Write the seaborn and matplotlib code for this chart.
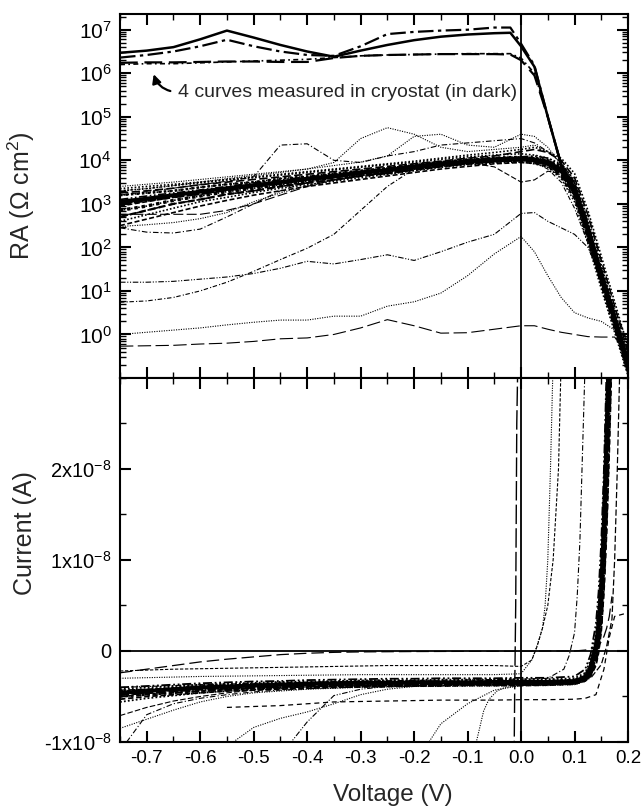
import numpy as np
import pandas as pd
import matplotlib
matplotlib.use("Agg")
import matplotlib.pyplot as plt
import seaborn as sns
from matplotlib.ticker import FixedLocator, FixedFormatter, LogLocator, NullFormatter, MultipleLocator

# ---------------- DATA ----------------
# Top panel: voltage grid (V) and log10(RA / Ohm cm^2) values
v_top = [-0.75, -0.7, -0.65, -0.6, -0.55, -0.5, -0.45, -0.4, -0.35, -0.3, -0.25, -0.2,
         -0.15, -0.1, -0.05, 0.0, 0.025, 0.05, 0.075, 0.1, 0.125, 0.15, 0.175, 0.2]

lg_band_1 = [3.05, 3.12, 3.20, 3.28, 3.36, 3.43, 3.50, 3.58, 3.64, 3.72, 3.78, 3.86, 3.92, 3.98, 4.02, 4.04, 4.02, 3.96, 3.78, 3.35, 2.40, 1.35, 0.35, -0.70]
lg_band_2 = [2.95, 3.05, 3.15, 3.22, 3.32, 3.40, 3.46, 3.55, 3.60, 3.68, 3.75, 3.82, 3.88, 3.95, 4.00, 4.02, 4.00, 3.93, 3.72, 3.25, 2.30, 1.25, 0.25, -0.80]
lg_band_3 = [3.20, 3.25, 3.30, 3.38, 3.45, 3.50, 3.58, 3.63, 3.70, 3.76, 3.82, 3.90, 3.96, 4.02, 4.06, 4.08, 4.06, 4.00, 3.85, 3.45, 2.52, 1.48, 0.45, -0.60]
lg_band_4 = [2.70, 2.85, 3.00, 3.10, 3.22, 3.30, 3.40, 3.48, 3.55, 3.64, 3.70, 3.78, 3.86, 3.92, 3.97, 4.00, 3.97, 3.90, 3.68, 3.20, 2.25, 1.20, 0.20, -0.85]
lg_band_5 = [3.30, 3.35, 3.42, 3.48, 3.55, 3.60, 3.66, 3.72, 3.78, 3.84, 3.90, 3.95, 4.02, 4.08, 4.12, 4.15, 4.12, 4.05, 3.92, 3.55, 2.65, 1.60, 0.55, -0.50]
lg_band_6 = [2.50, 2.65, 2.80, 2.95, 3.08, 3.20, 3.30, 3.40, 3.48, 3.56, 3.64, 3.72, 3.80, 3.86, 3.92, 3.95, 3.93, 3.86, 3.62, 3.12, 2.18, 1.12, 0.12, -0.90]
lg_band_7 = [3.10, 3.18, 3.25, 3.32, 3.40, 3.48, 3.55, 3.62, 3.68, 3.75, 3.82, 3.88, 3.95, 4.00, 4.05, 4.08, 4.10, 4.05, 3.88, 3.48, 2.55, 1.50, 0.48, -0.55]
lg_band_8 = [2.85, 2.95, 3.08, 3.18, 3.28, 3.36, 3.44, 3.52, 3.60, 3.66, 3.74, 3.80, 3.88, 3.94, 3.98, 4.00, 3.98, 3.92, 3.75, 3.30, 2.35, 1.30, 0.30, -0.75]
lg_band_9 = [3.25, 3.30, 3.36, 3.44, 3.50, 3.56, 3.62, 3.68, 3.74, 3.80, 3.86, 3.92, 3.98, 4.05, 4.10, 4.20, 4.25, 4.18, 4.00, 3.60, 2.75, 1.70, 0.65, -0.40]
lg_band_10 = [2.60, 2.75, 2.90, 3.05, 3.15, 3.26, 3.36, 3.44, 3.52, 3.60, 3.68, 3.76, 3.84, 3.90, 3.94, 3.96, 3.92, 3.84, 3.58, 3.05, 2.10, 1.05, 0.05, -0.95]
lg_band_11 = [3.00, 3.08, 3.16, 3.24, 3.32, 3.40, 3.48, 3.56, 3.62, 3.70, 3.77, 3.84, 3.92, 3.98, 4.03, 4.05, 4.03, 3.98, 3.80, 3.40, 2.45, 1.40, 0.40, -0.65]
lg_band_12 = [3.35, 3.40, 3.45, 3.50, 3.56, 3.62, 3.68, 3.74, 3.80, 3.86, 3.92, 3.98, 4.05, 4.12, 4.18, 4.25, 4.30, 4.20, 4.05, 3.70, 2.85, 1.80, 0.75, -0.30]
lg_bump_1 = [3.30, 3.35, 3.42, 3.50, 3.58, 3.65, 3.72, 3.80, 3.95, 4.50, 4.75, 4.60, 4.30, 4.20, 4.25, 4.30, 4.35, 4.20, 3.95, 3.50, 2.60, 1.50, 0.50, -0.50]
lg_bump_2 = [3.20, 3.28, 3.36, 3.44, 3.52, 3.62, 4.35, 4.38, 4.00, 3.95, 4.10, 4.20, 4.35, 4.40, 4.45, 4.50, 4.40, 4.20, 3.95, 3.50, 2.50, 1.45, 0.45, -0.55]
lg_bump_3 = [3.40, 3.45, 3.50, 3.56, 3.62, 3.68, 3.74, 3.80, 3.88, 3.96, 4.10, 4.55, 4.60, 4.35, 4.30, 4.60, 4.55, 4.30, 3.90, 3.40, 2.50, 1.50, 0.50, -0.50]
lg_dip_1 = [3.00, 3.10, 3.18, 3.26, 3.34, 3.42, 3.50, 3.58, 3.64, 3.70, 3.76, 3.84, 3.90, 3.95, 3.85, 3.50, 3.55, 3.75, 3.70, 3.30, 2.35, 1.30, 0.30, -0.70]
lg_low_1 = [2.45, 2.35, 2.33, 2.42, 2.70, 3.00, 3.30, 3.50, 3.60, 3.70, 3.76, 3.84, 3.90, 3.96, 4.00, 4.02, 4.00, 3.94, 3.76, 3.30, 2.38, 1.32, 0.32, -0.72]
lg_low_2 = [2.76, 2.76, 2.76, 2.76, 2.85, 3.00, 3.20, 3.40, 3.55, 3.65, 3.72, 3.80, 3.88, 3.94, 3.98, 4.00, 3.98, 3.90, 3.72, 3.25, 2.30, 1.25, 0.25, -0.80]
lg_low_3 = [2.48, 2.52, 2.57, 2.66, 2.80, 3.05, 3.25, 3.42, 3.55, 3.64, 3.72, 3.80, 3.87, 3.93, 3.97, 3.99, 3.96, 3.88, 3.66, 3.18, 2.22, 1.18, 0.18, -0.85]
lg_rise_b = [0.74, 0.77, 0.85, 1.00, 1.20, 1.45, 1.72, 1.98, 2.30, 2.85, 3.40, 3.80, 3.92, 3.96, 4.00, 4.00, 3.95, 3.80, 3.50, 2.90, 2.10, 1.20, 0.30, -0.70]
lg_mid_a = [1.20, 1.20, 1.22, 1.27, 1.32, 1.40, 1.52, 1.68, 1.62, 1.72, 1.83, 1.70, 1.90, 2.12, 2.30, 2.78, 2.80, 2.60, 2.45, 2.30, 2.00, 1.30, 0.60, -0.20]
lg_mid_c = [0.00, 0.05, 0.10, 0.15, 0.22, 0.28, 0.33, 0.33, 0.42, 0.42, 0.65, 0.75, 0.95, 1.35, 1.85, 2.25, 1.90, 1.35, 0.85, 0.50, 0.38, 0.30, 0.10, -0.20]
lg_bot_d = [-0.27, -0.26, -0.25, -0.22, -0.20, -0.16, -0.10, -0.08, 0.00, 0.15, 0.34, 0.20, 0.03, 0.04, 0.12, 0.20, 0.20, 0.12, 0.05, 0.00, -0.05, -0.06, -0.06, -0.50]

# Cryostat curves (own voltage grid)
v_cryo = [-0.75, -0.7, -0.65, -0.6, -0.55, -0.5, -0.45, -0.4, -0.35, -0.3, -0.25, -0.2, -0.15,
          -0.1, -0.05, -0.02, 0.0, 0.025, 0.05, 0.075, 0.1, 0.125, 0.15, 0.175, 0.2]
lg_cryo_solid = [6.47, 6.52, 6.60, 6.78, 6.98, 6.82, 6.65, 6.50, 6.38, 6.52, 6.65, 6.76, 6.84, 6.89, 6.92, 6.93, 6.62, 6.15, 5.00, 3.90, 3.35, 2.40, 1.35, 0.35, -0.70]
lg_cryo_dashdot = [6.36, 6.42, 6.50, 6.62, 6.77, 6.62, 6.50, 6.42, 6.40, 6.62, 6.90, 6.95, 6.98, 7.00, 7.05, 7.05, 6.68, 6.18, 5.00, 3.90, 3.35, 2.40, 1.35, 0.35, -0.70]
lg_cryo_dash = [6.24, 6.25, 6.25, 6.26, 6.27, 6.27, 6.26, 6.26, 6.35, 6.40, 6.42, 6.43, 6.44, 6.44, 6.44, 6.43, 6.30, 5.95, 5.00, 3.90, 3.35, 2.40, 1.35, 0.35, -0.70]
lg_cryo_dot = [6.20, 6.22, 6.22, 6.24, 6.26, 6.28, 6.30, 6.32, 6.36, 6.40, 6.42, 6.43, 6.44, 6.45, 6.45, 6.45, 6.35, 6.00, 5.00, 3.90, 3.35, 2.40, 1.35, 0.35, -0.70]

# Bottom panel: voltage grid (V) and current in nA
v_bot = [-0.75, -0.7, -0.65, -0.6, -0.55, -0.5, -0.45, -0.4, -0.35, -0.3, -0.25, -0.2, -0.15, -0.1,
         -0.05, 0.0, 0.05, 0.1, 0.12, 0.13, 0.14, 0.145, 0.15, 0.155, 0.16, 0.165, 0.17]
i_band_1 = [-4.6, -4.4, -4.2, -4.0, -3.9, -3.8, -3.7, -3.6, -3.55, -3.5, -3.5, -3.45, -3.45, -3.45, -3.4, -3.4, -3.4, -3.3, -2.9, -1.8, 0.5, 3.0, 7.0, 14.0, 24.0, 35.0, 45.0]
i_band_2 = [-5.0, -4.8, -4.6, -4.4, -4.25, -4.1, -4.0, -3.9, -3.85, -3.8, -3.75, -3.75, -3.7, -3.7, -3.7, -3.65, -3.65, -3.55, -3.2, -2.4, -0.5, 1.5, 5.0, 11.0, 20.0, 31.0, 42.0]
i_band_3 = [-4.2, -4.0, -3.85, -3.7, -3.6, -3.5, -3.4, -3.35, -3.3, -3.25, -3.2, -3.2, -3.15, -3.15, -3.1, -3.1, -3.1, -3.0, -2.4, -1.0, 2.0, 5.0, 10.0, 18.0, 28.0, 40.0, 50.0]
i_band_4 = [-4.8, -4.6, -4.4, -4.2, -4.1, -4.0, -3.9, -3.8, -3.7, -3.65, -3.6, -3.6, -3.55, -3.55, -3.5, -3.5, -3.5, -3.45, -3.1, -2.6, -1.2, 0.5, 3.0, 8.0, 15.0, 25.0, 36.0]
i_band_5 = [-4.4, -4.2, -4.0, -3.85, -3.75, -3.65, -3.55, -3.5, -3.45, -3.4, -3.35, -3.35, -3.3, -3.3, -3.3, -3.25, -3.25, -3.15, -2.6, -1.4, 1.2, 4.0, 8.5, 16.0, 26.0, 38.0, 48.0]
i_band_6 = [-5.3, -5.0, -4.8, -4.6, -4.4, -4.3, -4.2, -4.1, -4.0, -3.95, -3.9, -3.85, -3.85, -3.8, -3.8, -3.8, -3.75, -3.65, -3.3, -2.8, -1.6, -0.2, 2.2, 6.5, 13.0, 22.0, 33.0]
i_band_7 = [-4.0, -3.85, -3.7, -3.55, -3.45, -3.35, -3.3, -3.2, -3.15, -3.1, -3.05, -3.05, -3.0, -3.0, -3.0, -2.95, -2.95, -2.8, -2.0, -0.4, 3.0, 6.5, 12.0, 20.0, 31.0, 43.0, 55.0]
i_band_8 = [-4.7, -4.5, -4.3, -4.1, -4.0, -3.9, -3.8, -3.7, -3.65, -3.6, -3.55, -3.55, -3.5, -3.5, -3.5, -3.45, -3.45, -3.35, -2.95, -2.0, 0.2, 2.5, 6.0, 12.5, 22.0, 33.0, 44.0]
i_band_9 = [-4.5, -4.35, -4.15, -3.95, -3.85, -3.75, -3.65, -3.55, -3.5, -3.45, -3.45, -3.4, -3.4, -3.4, -3.35, -3.35, -3.35, -3.25, -2.8, -1.6, 0.8, 3.5, 7.5, 15.0, 25.0, 36.0, 47.0]
i_band_10 = [-5.6, -5.2, -4.9, -4.6, -4.4, -4.25, -4.1, -4.0, -3.9, -3.85, -3.8, -3.8, -3.75, -3.75, -3.75, -3.7, -3.7, -3.6, -3.25, -2.5, -0.8, 1.0, 4.0, 9.5, 18.0, 28.0, 39.0]
i_low_4 = [-7.1, -6.2, -5.5, -5.0, -4.6, -4.3, -4.1, -3.95, -3.85, -3.8, -3.75, -3.7, -3.7, -3.7, -3.65, -3.65, -3.6, -3.5, -3.1, -2.2, 0.0, 2.0, 5.5, 12.0, 21.0, 32.0, 43.0]
i_low_5 = [-8.5, -7.5, -6.5, -5.6, -5.0, -4.6, -4.4, -4.2, -4.1, -4.0, -3.95, -3.9, -3.9, -3.85, -3.85, -3.8, -3.8, -3.7, -3.35, -2.7, -1.0, 0.8, 3.8, 9.0, 17.0, 27.0, 38.0]
i_low_6 = [-11.0, -7.0, -5.8, -5.2, -4.8, -4.5, -4.3, -4.15, -4.05, -3.95, -3.9, -3.85, -3.8, -3.8, -3.75, -3.75, -3.7, -3.6, -3.2, -2.5, -0.6, 1.2, 4.5, 10.5, 19.0, 30.0, 41.0]
i_low_7 = [-20.0, -17.0, -14.5, -12.3, -10.5, -8.4, -7.4, -6.7, -5.8, -4.8, -4.2, -3.9, -3.8, -3.75, -3.7, -3.7, -3.65, -3.55, -3.15, -2.3, -0.2, 1.8, 5.2, 11.5, 20.5, 31.0, 42.0]
i_low_8 = [-40.0, -35.0, -30.0, -25.0, -20.0, -16.0, -11.5, -7.8, -4.9, -4.2, -3.9, -3.8, -3.75, -3.7, -3.7, -3.65, -3.6, -3.5, -3.05, -2.1, 0.3, 2.3, 6.0, 13.0, 23.0, 34.0, 45.0]
i_low_9 = [-40.0, -38.0, -36.0, -34.0, -32.0, -30.0, -28.0, -26.0, -24.0, -21.0, -17.0, -12.5, -8.0, -5.8, -4.3, -3.8, -3.7, -3.6, -3.2, -2.4, -0.4, 1.5, 4.8, 10.5, 19.5, 30.0, 41.0]
i_near_zero = [-2.4, -2.0, -1.6, -1.2, -0.9, -0.65, -0.4, -0.25, -0.15, -0.1, -0.08, -0.06, -0.05, -0.04, -0.03, -0.02, 0.0, 0.0, 0.1, 0.2, 0.4, 0.6, 1.0, 1.6, 2.5, 3.8, 6.0]

v_dash_low = [-0.55, -0.45, -0.35, -0.25, -0.15, -0.05, 0.0, 0.05, 0.1, 0.12, 0.14, 0.155, 0.165, 0.175, 0.2]
i_dash_low = [-6.2, -6.0, -5.6, -5.5, -5.4, -5.4, -5.35, -5.35, -5.3, -5.2, -4.8, -2.0, 1.5, 3.8, 4.2]
v_dash_up = [-0.75, -0.65, -0.55, -0.45, -0.35, -0.25, -0.15, -0.05, 0.0, 0.02, 0.03, 0.04, 0.05, 0.06, 0.07, 0.075]
i_dash_up = [-2.2, -2.0, -1.9, -1.8, -1.7, -1.6, -1.6, -1.6, -1.7, -1.0, 0.5, 2.5, 5.0, 10.0, 20.0, 32.0]
v_dot_early = [-0.75, -0.6, -0.45, -0.3, -0.15, -0.05, 0.0, 0.02, 0.03, 0.04, 0.045, 0.05, 0.055, 0.06]
i_dot_early = [-3.0, -2.8, -2.7, -2.6, -2.6, -2.6, -2.5, -1.0, 0.6, 2.5, 5.0, 10.0, 20.0, 32.0]
v_dashdot_mid = [-0.75, -0.6, -0.45, -0.3, -0.15, 0.0, 0.05, 0.08, 0.09, 0.1, 0.105, 0.11, 0.115, 0.12]
i_dashdot_mid = [-4.0, -3.7, -3.5, -3.3, -3.2, -3.1, -3.0, -2.0, -0.5, 2.0, 6.0, 12.0, 22.0, 32.0]
v_dash_late = [-0.75, -0.6, -0.45, -0.3, -0.15, 0.0, 0.1, 0.13, 0.15, 0.16, 0.17, 0.175, 0.18, 0.185]
i_dash_late = [-4.3, -4.0, -3.7, -3.5, -3.4, -3.4, -3.4, -3.0, -1.5, 0.5, 3.5, 10.0, 20.0, 32.0]
v_dot_steep = [-0.1, -0.08, -0.07, -0.06, -0.045, -0.03, 0.0, 0.05, 0.1, 0.12, 0.13, 0.14, 0.145, 0.15, 0.155, 0.16]
i_dot_steep = [-14.0, -9.1, -6.6, -5.3, -4.4, -4.0, -3.8, -3.7, -3.6, -3.2, -2.4, -0.4, 1.5, 4.8, 10.5, 19.5]
v_vertical = [-0.013, -0.012, -0.011, -0.010, -0.009, -0.008, -0.006]
i_vertical = [-12.0, -5.0, 0.0, 5.0, 15.0, 25.0, 32.0]

x_ticks = [-0.7, -0.6, -0.5, -0.4, -0.3, -0.2, -0.1, 0.0, 0.1, 0.2]
x_tick_labels = ["-0.7", "-0.6", "-0.5", "-0.4", "-0.3", "-0.2", "-0.1", "0.0", "0.1", "0.2"]
cur_ticks = [-1e-8, 0.0, 1e-8, 2e-8]
cur_tick_labels = ["-1x10$^{-8}$", "0", "1x10$^{-8}$", "2x10$^{-8}$"]
annotation_text = "4 curves measured in cryostat (in dark)"

# ---------------- STYLE ----------------
sns.set_style("ticks")
plt.rcParams["font.family"] = ["Liberation Sans", "DejaVu Sans"]
plt.rcParams["mathtext.default"] = "regular"
plt.rcParams["axes.unicode_minus"] = False

fig = plt.figure(figsize=(6.42, 8.08), dpi=100)
ax1 = fig.add_axes([0.1869, 0.5322, 0.7913, 0.4505])
ax2 = fig.add_axes([0.1869, 0.0817, 0.7913, 0.4505], sharex=ax1)

DOT = (0, (1, 1.2))
DASH = (0, (5, 2))
DASHDOT = (0, (5, 2, 1, 2))
DASHDOTDOT = (0, (5, 1.5, 1, 1.5, 1, 1.5))
LONGDASH = (0, (9, 3))
SHORTDASH = (0, (3, 1.5))
styles = [DOT, SHORTDASH, DOT, DASHDOT, DOT, SHORTDASH, DASHDOTDOT, DOT, DASH, DOT, SHORTDASH, DOT]


def draw(ax, x, y, ls="-", lw=0.9):
    df = pd.DataFrame({"x": x, "y": y})
    sns.lineplot(data=df, x="x", y="y", ax=ax, color="black", linestyle=ls, linewidth=lw,
                 estimator=None, sort=False, legend=False)


def ra(lg):
    return np.power(10.0, np.array(lg))


# ---- top panel ----
band_top = [lg_band_1, lg_band_2, lg_band_3, lg_band_4, lg_band_5, lg_band_6,
            lg_band_7, lg_band_8, lg_band_9, lg_band_10, lg_band_11, lg_band_12]
for k, lg in enumerate(band_top):
    draw(ax1, v_top, ra(lg), ls=styles[k % len(styles)], lw=1.2)
draw(ax1, v_top, ra(lg_band_1), ls="-", lw=2.8)
draw(ax1, v_top, ra(lg_band_8), ls=DOT, lw=2.4)
draw(ax1, v_top, ra(lg_band_11), ls=SHORTDASH, lw=2.2)
draw(ax1, v_top, ra(lg_band_3), ls=DOT, lw=1.8)
draw(ax1, v_top, ra(lg_band_4), ls=SHORTDASH, lw=1.6)
draw(ax1, v_top, ra(lg_bump_1), ls=DOT, lw=0.8)
draw(ax1, v_top, ra(lg_bump_2), ls=DASHDOT, lw=0.8)
draw(ax1, v_top, ra(lg_bump_3), ls=DOT, lw=0.8)
draw(ax1, v_top, ra(lg_dip_1), ls=DASH, lw=0.8)
draw(ax1, v_top, ra(lg_low_1), ls=DASHDOT, lw=0.8)
draw(ax1, v_top, ra(lg_low_2), ls=LONGDASH, lw=0.8)
draw(ax1, v_top, ra(lg_low_3), ls=DOT, lw=0.8)
draw(ax1, v_top, ra(lg_rise_b), ls=(0, (4, 2, 1, 1.5)), lw=0.8)
draw(ax1, v_top, ra(lg_mid_a), ls=DASHDOTDOT, lw=0.8)
draw(ax1, v_top, ra(lg_mid_c), ls=DOT, lw=0.8)
draw(ax1, v_top, ra(lg_bot_d), ls=(0, (12, 4)), lw=0.8)

draw(ax1, v_cryo, ra(lg_cryo_solid), ls="-", lw=1.8)
draw(ax1, v_cryo, ra(lg_cryo_dashdot), ls=(0, (7, 2, 1.5, 2)), lw=1.6)
draw(ax1, v_cryo, ra(lg_cryo_dash), ls=(0, (8, 3)), lw=1.6)
draw(ax1, v_cryo, ra(lg_cryo_dot), ls=(0, (3, 2, 1, 2)), lw=1.2)

ax1.set_yscale("log")
ax1.set_ylim(0.1, 2.3e7)
ax1.set_xlim(-0.75, 0.2)
ax1.axvline(0.0, color="black", lw=1.3)
ax1.yaxis.set_major_locator(FixedLocator([1e0, 1e1, 1e2, 1e3, 1e4, 1e5, 1e6, 1e7]))
ax1.yaxis.set_minor_locator(LogLocator(base=10, subs=np.arange(2, 10), numticks=20))
ax1.yaxis.set_minor_formatter(NullFormatter())
ax1.set_ylabel("RA ($\\Omega$ cm$^2$)", fontsize=18)
ax1.yaxis.set_label_coords(-0.163, 0.50)
ax1.set_xlabel("")
plt.setp(ax1.get_xticklabels(), visible=False)

ax1.annotate(annotation_text, xy=(-0.687, 9.5e5), xytext=(-0.642, 3.7e5),
             fontsize=14, ha="left", va="center",
             arrowprops=dict(arrowstyle="-|>", color="black", lw=1.6,
                             connectionstyle="arc3,rad=-0.35", shrinkA=3, shrinkB=0,
                             mutation_scale=13, relpos=(0.0, 0.5)))

# ---- bottom panel ----
band_bot = [i_band_1, i_band_2, i_band_3, i_band_4, i_band_5, i_band_6, i_band_7,
            i_band_8, i_band_9, i_band_10]
for k, cur in enumerate(band_bot):
    draw(ax2, v_bot, np.array(cur) * 1e-9, ls=styles[k % len(styles)], lw=1.3)
draw(ax2, v_bot, np.array(i_band_1) * 1e-9, ls="-", lw=2.8)
draw(ax2, v_bot, np.array(i_band_9) * 1e-9, ls=DOT, lw=2.4)
draw(ax2, v_bot, np.array(i_band_4) * 1e-9, ls=SHORTDASH, lw=2.0)
draw(ax2, v_bot, np.array(i_band_2) * 1e-9, ls=DOT, lw=1.8)
for k, cur in enumerate([i_low_4, i_low_5, i_low_6, i_low_7, i_low_8, i_low_9]):
    draw(ax2, v_bot, np.array(cur) * 1e-9, ls=[DASH, DOT, DASHDOT, DOT, DASHDOTDOT, DOT][k], lw=0.8)
draw(ax2, v_bot, np.array(i_near_zero) * 1e-9, ls=(0, (10, 4)), lw=0.9)
draw(ax2, v_dash_low, np.array(i_dash_low) * 1e-9, ls=(0, (4, 3)), lw=0.9)
draw(ax2, v_dash_up, np.array(i_dash_up) * 1e-9, ls=SHORTDASH, lw=0.8)
draw(ax2, v_dot_early, np.array(i_dot_early) * 1e-9, ls=DOT, lw=0.8)
draw(ax2, v_dashdot_mid, np.array(i_dashdot_mid) * 1e-9, ls=DASHDOT, lw=0.8)
draw(ax2, v_dash_late, np.array(i_dash_late) * 1e-9, ls=DASH, lw=0.9)
draw(ax2, v_dot_steep, np.array(i_dot_steep) * 1e-9, ls=DOT, lw=0.8)
draw(ax2, v_vertical, np.array(i_vertical) * 1e-9, ls=(0, (14, 3)), lw=1.0)

ax2.axvline(0.0, color="black", lw=1.3)
ax2.axhline(0.0, color="black", lw=1.3)
ax2.set_ylim(-1e-8, 3e-8)
ax2.set_xlim(-0.75, 0.2)
ax2.yaxis.set_major_locator(FixedLocator(cur_ticks))
ax2.yaxis.set_major_formatter(FixedFormatter(cur_tick_labels))
ax2.yaxis.set_minor_locator(MultipleLocator(0.5e-8))
ax2.set_ylabel("Current (A)", fontsize=18)
ax2.yaxis.set_label_coords(-0.163, 0.575)
ax2.xaxis.set_major_locator(FixedLocator(x_ticks))
ax2.xaxis.set_major_formatter(FixedFormatter(x_tick_labels))
ax2.xaxis.set_minor_locator(MultipleLocator(0.05))
ax2.set_xlabel("Voltage (V)", fontsize=17.5)
ax2.xaxis.set_label_coords(0.537, -0.115)

for ax in (ax1, ax2):
    for sp in ax.spines.values():
        sp.set_linewidth(1.5)
        sp.set_color("black")
        sp.set_visible(True)
    ax.tick_params(which="both", direction="in", top=True, right=True, colors="black")
    ax.tick_params(which="major", length=8, width=1.5, labelsize=13.5, pad=6)
    ax.tick_params(which="minor", length=4, width=1.0)
ax1.tick_params(axis="y", which="major", labelsize=15)
ax2.tick_params(axis="y", which="major", labelsize=14.5)

fig.savefig("out.png", dpi=100)
